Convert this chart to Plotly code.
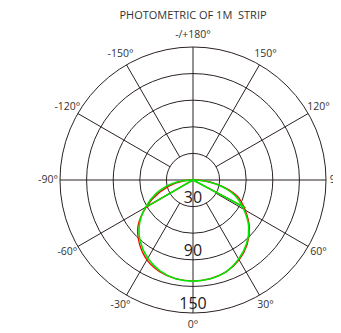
import plotly.graph_objects as go

# ---- data ----
title_text = "PHOTOMETRIC OF 1M  STRIP"
angle_ticks = [0, 30, 60, 90, 120, 150, 180, 210, 240, 270, 300, 330]
angle_labels = ["0°", "30°", "60°", "90°", "120°", "150°", "-/+180°",
                "-150°", "-120°", "-90°", "-60°", "-30°"]
radial_ticks = [30, 60, 90, 120, 150]
radial_labels = ["30", "", "90", "", "150"]

# smooth loop (from the right side through the bottom to the left, closing at the centre)
green_arc_theta = [90, 80, 70, 60, 50, 40, 30, 20, 10, 0, -10, -20, -30,
                   -40, -50, -60, -70, -80, -90]
green_arc_r = [0, 26, 50, 66, 82, 94, 103, 110, 113, 114, 113, 109, 102,
               92, 79, 62, 44, 24, 0]
# straight chords from the centre
green_chord_theta = [-60, 180, 62]
green_chord_r = [60, 0, 66]

red_arc_theta = [90, 80, 70, 60, 50, 40, 30, 20, 10, 0, -10, -20, -30,
                 -40, -50, -60, -70, -80, -90]
red_arc_r = [0, 28, 53, 68, 83, 95, 104, 110, 113, 114, 113, 110, 104,
             94, 81, 61, 40, 20, 0]
red_chord_theta = [-60, 180, 62]
red_chord_r = [63, 0, 67]

GRID = "#2b2222"
TXT = "#333333"
FONT = "Open Sans"

# page body has an 8px margin: figure is sized to fill the rest of the window
W, H = 333, 325
CX, CY = 185, 172           # centre of the polar disc in figure pixels
R_RIM = 133                 # pixel radius of the outer ring (value 150)
R_LAB = 145                 # pixel radius where angular labels are centred
RMAX = radial_ticks[-1]
LABEL_R = RMAX * R_LAB / R_RIM
R_DOM = R_LAB               # polar area extends out to the label radius

fig = go.Figure()

# spokes (start at inner ring except for the cardinal directions)
sp_t, sp_r = [], []
for a in angle_ticks:
    start = 0 if a % 90 == 0 else radial_ticks[0]
    sp_t += [a, a, None]
    sp_r += [start, RMAX, None]
fig.add_trace(go.Scatterpolar(theta=sp_t, r=sp_r, mode="lines",
                              line=dict(color=GRID, width=1),
                              hoverinfo="skip", showlegend=False))

for th, rr, col, w, shp in [
    (red_arc_theta, red_arc_r, "#ff0000", 1.3, "spline"),
    (red_chord_theta, red_chord_r, "#ff0000", 1.3, "linear"),
    (green_arc_theta, green_arc_r, "#00e600", 1.6, "spline"),
    (green_chord_theta, green_chord_r, "#00e600", 1.6, "linear"),
]:
    fig.add_trace(go.Scatterpolar(theta=th, r=rr, mode="lines",
                                  line=dict(color=col, width=w, shape=shp),
                                  showlegend=False))

# radial value labels along the 0° direction
lab_r = [v for v, t in zip(radial_ticks, radial_labels) if t]
lab_t = [t for t in radial_labels if t]
fig.add_trace(go.Scatterpolar(theta=[0] * len(lab_r), r=lab_r, text=lab_t,
                              mode="text", textposition="top center",
                              textfont=dict(family=FONT, size=16, color="#222222"),
                              hoverinfo="skip", showlegend=False))

# angular labels, centred on their direction outside the rim
fig.add_trace(go.Scatterpolar(theta=angle_ticks, r=[LABEL_R] * len(angle_ticks),
                              text=angle_labels, mode="text",
                              textposition="middle center", cliponaxis=False,
                              textfont=dict(family=FONT, size=10.5, color=TXT),
                              hoverinfo="skip", showlegend=False))

fig.update_layout(
    width=W, height=H,
    margin=dict(l=0, r=0, t=0, b=0, autoexpand=False),
    paper_bgcolor="white", plot_bgcolor="white",
    font=dict(family=FONT, size=10, color=TXT),
    title=dict(text=title_text, x=CX / W, xanchor="center",
               y=1 - 7 / H, yanchor="middle",
               font=dict(family=FONT, size=11, color=TXT)),
    polar=dict(
        domain=dict(x=[(CX - R_DOM) / W, (CX + R_DOM) / W],
                    y=[(H - CY - R_DOM) / H, (H - CY + R_DOM) / H]),
        bgcolor="rgba(0,0,0,0)",
        angularaxis=dict(rotation=270, direction="counterclockwise",
                         tickmode="array", tickvals=angle_ticks,
                         showgrid=False, showticklabels=False,
                         showline=False, ticks=""),
        radialaxis=dict(range=[0, LABEL_R], tickmode="array",
                        tickvals=radial_ticks, ticktext=radial_labels,
                        showticklabels=False, showline=False, ticks="",
                        showgrid=True, gridcolor=GRID, gridwidth=1),
    ),
)

fig.write_html("out.html")
